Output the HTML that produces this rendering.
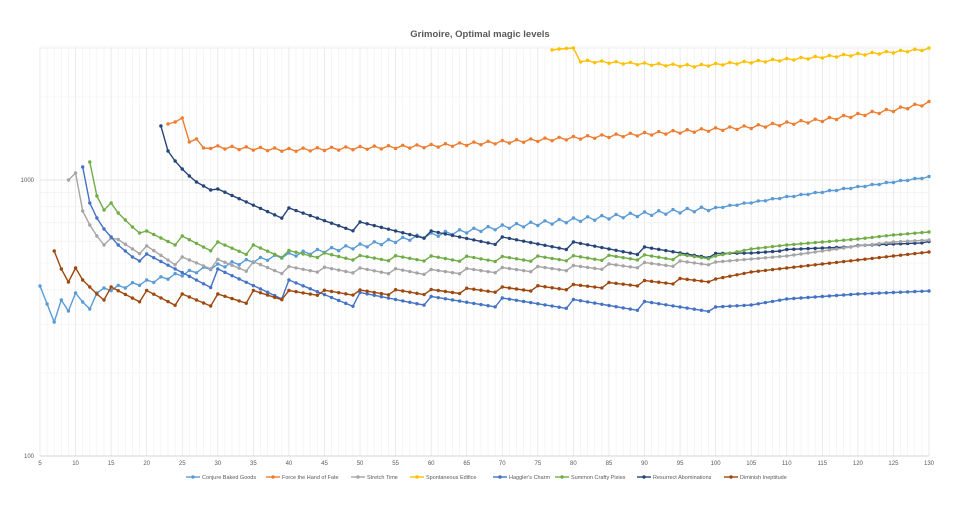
<!DOCTYPE html>
<html><head><meta charset="utf-8"><style>
body{margin:0;background:#fff;width:960px;height:510px;overflow:hidden;font-family:"Liberation Sans",sans-serif}
</style></head><body>
<svg id="c" width="960" height="510" xmlns="http://www.w3.org/2000/svg" font-family="Liberation Sans, sans-serif">
<text x="480" y="37" text-anchor="middle" font-size="9.5" font-weight="bold" fill="#595959">Grimoire, Optimal magic levels</text>
</svg>
<script>
(function(){
const svg=document.getElementById('c');const NS='http://www.w3.org/2000/svg';
function el(t,a,txt){const e=document.createElementNS(NS,t);for(const k in a)e.setAttribute(k,a[k]);if(txt!==undefined)e.textContent=txt;svg.appendChild(e);return e;}
const X=l=>40+(l-5)*(889/125);
const Y=v=>456-Math.log10(v/100)*276;
const TOPY=47;
for(let l=5;l<=130;l++){el('line',{x1:X(l),x2:X(l),y1:TOPY,y2:456,stroke:l%5==0?'#e2e2e2':'#f2f2f2','stroke-width':0.7});}
[100,1000].forEach(d=>{for(let m=1;m<10;m++){const v=d*m;if(v>3000)break;el('line',{x1:40,x2:929,y1:Y(v),y2:Y(v),stroke:m==1?'#dcdcdc':'#f0f0f0','stroke-width':0.7});}});
el('line',{x1:40,x2:929,y1:TOPY,y2:TOPY,stroke:'#ececec','stroke-width':0.7});
el('line',{x1:40,x2:929,y1:456,y2:456,stroke:'#d0d0d0','stroke-width':0.8});
el('text',{x:34,y:458,'font-size':6,'text-anchor':'end',fill:'#595959'},'100');
el('text',{x:34,y:182,'font-size':6,'text-anchor':'end',fill:'#595959'},'1000');
for(let l=5;l<=130;l+=5)el('text',{x:X(l),y:465,'font-size':6,'text-anchor':'middle',fill:'#595959'},String(l));
function interp(a,l){for(let i=0;i<a.length-1;i++){if(l>=a[i][0]&&l<=a[i+1][0]){const t=(l-a[i][0])/(a[i+1][0]-a[i][0]);return a[i][1]+t*(a[i+1][1]-a[i][1]);}}return a[a.length-1][1];}
// mode: P>0 sawtooth with period P; P=0 alternating zigzag
function series(color,start,fixed,anchors,P,amp){
  const pts=[];
  for(let l=start;l<=130;l++){
    let y;
    if(fixed[l]!==undefined)y=fixed[l];
    else{
      const a=amp(l);
      if(P>0){y=interp(anchors,l)+a*((l%P)/(P-1)-0.5);}
      else{y=interp(anchors,l)+(l%2?a:-a)/2;}
    }
    pts.push([X(l),y]);
  }
  el('polyline',{points:pts.map(p=>p[0].toFixed(1)+','+p[1].toFixed(1)).join(' '),fill:'none',stroke:color,'stroke-width':1.4});
  pts.forEach(p=>el('circle',{cx:p[0],cy:p[1],r:1.7,fill:color}));
}
series('#FFC000',77,{77:50,78:49,79:48.5,80:48},[[81,61],[90,64],[97,66],[105,62],[115,57],[125,52],[130,49]],0,l=>2);
series('#ED7D31',23,{23:124,24:122,25:118,26:142,27:139,28:148},[[29,147],[40,150],[60,146],[75,140],[90,134],[105,127],[115,120],[125,110],[130,103]],0,l=>3);
series('#5B9BD5',5,{5:286,6:304,7:322,8:300,9:311,10:293,11:302,12:309,13:293},[[14,290],[20,282],[30,266],[40,255],[50,246],[60,235],[70,227],[80,220],[90,214],[100,208],[110,197],[120,187],[130,177]],0,l=>l<100?4:1);
series('#264478',22,{22:126,23:151,24:161,25:169,26:176,27:182,28:186,29:190},[[30,195],[40,214],[50,226],[60,235],[70,241],[80,246],[90,251],[100,254],[105,253],[110,250],[120,246],[130,242]],10,l=>l<50?12:(l<100?8:1));
series('#70AD47',12,{12:162,13:196,14:210,15:203,16:213,17:220,18:227,19:233},[[20,236],[25,241],[30,247],[40,253],[50,258],[70,259],[95,257],[100,256],[105,249],[110,245],[120,239],[125,235],[130,232]],5,l=>l<40?10:(l<100?5:0));
series('#A5A5A5',9,{9:180,10:173,11:211,12:225,13:236,14:245,15:238},[[16,242],[25,262],[40,269],[60,272],[80,268],[100,262],[110,256],[120,246],[125,242],[130,240]],5,l=>l<40?10:(l<100?5:0));
series('#4472C4',11,{11:167,12:203,13:218,14:229,15:237,16:245,17:251,18:257,19:261},[[20,264],[30,279],[40,290],[50,297],[60,301],[80,304],[90,306],[100,307],[105,305],[110,299],[120,294],[130,291]],10,l=>l<50?20:(l<100?9:0));
series('#9E480E',7,{7:251,8:269,9:282,10:268,11:280,12:287,13:294,14:300},[[15,293],[25,300],[30,300],[40,293],[60,292],[80,287],[100,279],[105,272],[110,268],[120,260],[130,252]],5,l=>l<40?12:(l<100?5:0));
const leg=[['#5B9BD5','Conjure Baked Goods',186],['#ED7D31','Force the Hand of Fate',266],['#A5A5A5','Stretch Time',351],['#FFC000','Spontaneous Edifice',410],['#4472C4',"Haggler's Charm",493],['#70AD47','Summon Crafty Pixies',555],['#264478','Resurrect Abominations',637],['#9E480E','Diminish Ineptitude',724]];
leg.forEach(([c,t,x])=>{el('line',{x1:x,x2:x+14,y1:477,y2:477,stroke:c,'stroke-width':1.4});el('circle',{cx:x+7,cy:477,r:1.7,fill:c});el('text',{x:x+16,y:479,'font-size':5.5,fill:'#595959'},t);});
})();
</script>
</body></html>
